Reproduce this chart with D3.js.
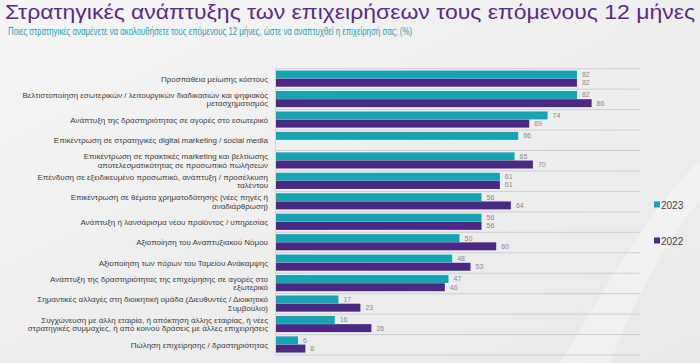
<!DOCTYPE html>
<html>
<head>
<meta charset="utf-8">
<script src="https://cdn.jsdelivr.net/npm/d3@7"></script>
<style>
  body { margin: 0; background: #efeeee; }
  svg { display: block; font-family: "Liberation Sans", Arial, sans-serif; }
</style>
</head>
<body>
<div id="root"></div>
<script>
// categories (line breaks as in the original labels)
const categories = [
  "Προσπάθεια μείωσης κόστους",
  "Βελτιστοποίηση εσωτερικών / λειτουργικών διαδικασιών και ψηφιακός\nμετασχηματισμός",
  "Ανάπτυξη της δραστηριότητας σε αγορές στο εσωτερικό",
  "Επικέντρωση σε στρατηγικές digital marketing / social media",
  "Επικέντρωση σε πρακτικές marketing και βελτίωσης\nαποτελεσματικότητας σε προσωπικό πωλήσεων",
  "Επένδυση σε εξειδικευμένο προσωπικό, ανάπτυξη / προσέλκυση\nταλέντου",
  "Επικέντρωση σε θέματα χρηματοδότησης (νέες πηγές ή\nαναδιάρθρωση)",
  "Ανάπτυξη ή λανσάρισμα νέου προϊόντος / υπηρεσίας",
  "Αξιοποίηση του Αναπτυξιακού Νόμου",
  "Αξιοποίηση των πόρων του Ταμείου Ανάκαμψης",
  "Ανάπτυξη της δραστηριότητας της επιχείρησης σε αγορές στο\nεξωτερικό",
  "Σημαντικές αλλαγές στη διοικητική ομάδα (Διευθυντές / Διοικητικό\nΣυμβούλιο)",
  "Συγχώνευση με άλλη εταιρία, ή απόκτηση άλλης εταιρίας, ή νέες\nστρατηγικές συμμαχίες, ή από κοινού δράσεις με άλλες επιχειρήσεις",
  "Πώληση επιχείρησης / δραστηριότητας"
];
const series = ["2023", "2022"];
const values2023 = [82, 82, 74, 66, 65, 61, 56, 56, 50, 48, 47, 17, 16, 6];
const values2022 = [82, 86, 69, null, 70, 61, 64, 56, 60, 53, 46, 23, 26, 8];
const colors = ["#16a4b3", "#4b2983"];

const W = 700, H = 363;
const left = 276, xMax = 100;

const rows = categories.map((c, i) => ({
  cat: c,
  vals: [
    { s: "2023", v: values2023[i] },
    { s: "2022", v: values2022[i] }
  ]
}));

const x = d3.scaleLinear().domain([0, xMax]).range([left, left + 367]);
const y0 = d3.scaleBand().domain(categories).range([68.7, 355]).padding(0);
const y1 = d3.scaleBand().domain(series).range([1.6, y0.bandwidth() - 2.2]).padding(0.03);
const color = d3.scaleOrdinal().domain(series).range(colors);

const svg = d3.select("#root").append("svg")
  .attr("width", W)
  .attr("height", H);

// background
const defs = svg.append("defs");
const grad = defs.append("linearGradient").attr("id", "bg")
  .attr("x1", "0").attr("y1", "0").attr("x2", "1").attr("y2", "1");
grad.append("stop").attr("offset", "0%").attr("stop-color", "#f6f5f5");
grad.append("stop").attr("offset", "60%").attr("stop-color", "#eeeded");
grad.append("stop").attr("offset", "100%").attr("stop-color", "#e9e8e8");
svg.append("rect").attr("width", W).attr("height", H).attr("fill", "url(#bg)");
svg.append("path")
  .attr("d", "M560,363 C600,300 640,220 700,160 L700,200 C660,250 630,310 610,363 Z")
  .attr("fill", "#ffffff").attr("opacity", 0.35);

// titles
svg.append("text")
  .attr("x", 5).attr("y", 19)
  .attr("font-size", 20)
  .attr("fill", "#5a2a8c")
  .attr("textLength", 690)
  .attr("lengthAdjust", "spacingAndGlyphs")
  .text("Στρατηγικές ανάπτυξης των επιχειρήσεων τους επόμενους 12 μήνες");

svg.append("text")
  .attr("x", 8).attr("y", 35)
  .attr("font-size", 10)
  .attr("fill", "#1aa5b2")
  .attr("textLength", 404)
  .attr("lengthAdjust", "spacingAndGlyphs")
  .text("Ποιες στρατηγικές αναμένετε να ακολουθήσετε τους επόμενους 12 μήνες, ώστε να αναπτυχθεί η επιχείρησή σας; (%)");

// row separators
const bounds = categories.map(c => y0(c)).concat([y0.range()[1]]);
svg.append("g").selectAll("line")
  .data(bounds)
  .enter().append("line")
  .attr("x1", left - 1).attr("x2", 640)
  .attr("y1", d => d).attr("y2", d => d)
  .attr("stroke", "#cfcfd3").attr("stroke-width", 1);

svg.append("line")
  .attr("x1", left - 0.5).attr("x2", left - 0.5)
  .attr("y1", bounds[0]).attr("y2", bounds[bounds.length - 1])
  .attr("stroke", "#d6d6d9");

// bars
const groups = svg.append("g").selectAll("g")
  .data(rows)
  .enter().append("g")
  .attr("transform", d => `translate(0,${y0(d.cat)})`);

groups.selectAll("rect")
  .data(d => d.vals.filter(e => e.v != null))
  .enter().append("rect")
  .attr("x", x(0))
  .attr("y", d => y1(d.s))
  .attr("width", d => x(d.v) - x(0))
  .attr("height", y1.bandwidth())
  .attr("fill", d => color(d.s));

groups.selectAll("text.val")
  .data(d => d.vals.filter(e => e.v != null))
  .enter().append("text")
  .attr("class", "val")
  .attr("x", d => x(d.v) + 5)
  .attr("y", d => y1(d.s) + y1.bandwidth() / 2)
  .attr("dy", "0.35em")
  .attr("font-size", 7)
  .attr("fill", "#8a8a8a")
  .text(d => d.v);

// category labels
groups.append("text")
  .attr("text-anchor", "end")
  .attr("font-size", 8)
  .attr("fill", "#3d3d3d")
  .each(function (d) {
    const lines = d.cat.split("\n");
    const mid = y0.bandwidth() / 2;
    const lh = 8.4;
    d3.select(this).selectAll("tspan")
      .data(lines)
      .enter().append("tspan")
      .attr("x", left - 8)
      .attr("y", (l, i) => mid + (i - (lines.length - 1) / 2) * lh)
      .attr("dy", "0.35em")
      .text(l => l);
  });

// legend
const legend = svg.append("g").selectAll("g")
  .data(series)
  .enter().append("g")
  .attr("transform", (d, i) => `translate(654,${205 + i * 36})`);
legend.append("rect")
  .attr("x", 0).attr("y", -3.5)
  .attr("width", 6).attr("height", 6)
  .attr("fill", d => color(d));
legend.append("text")
  .attr("x", 7).attr("dy", "0.35em")
  .attr("font-size", 10)
  .attr("fill", "#444")
  .text(d => d);
</script>
</body>
</html>
